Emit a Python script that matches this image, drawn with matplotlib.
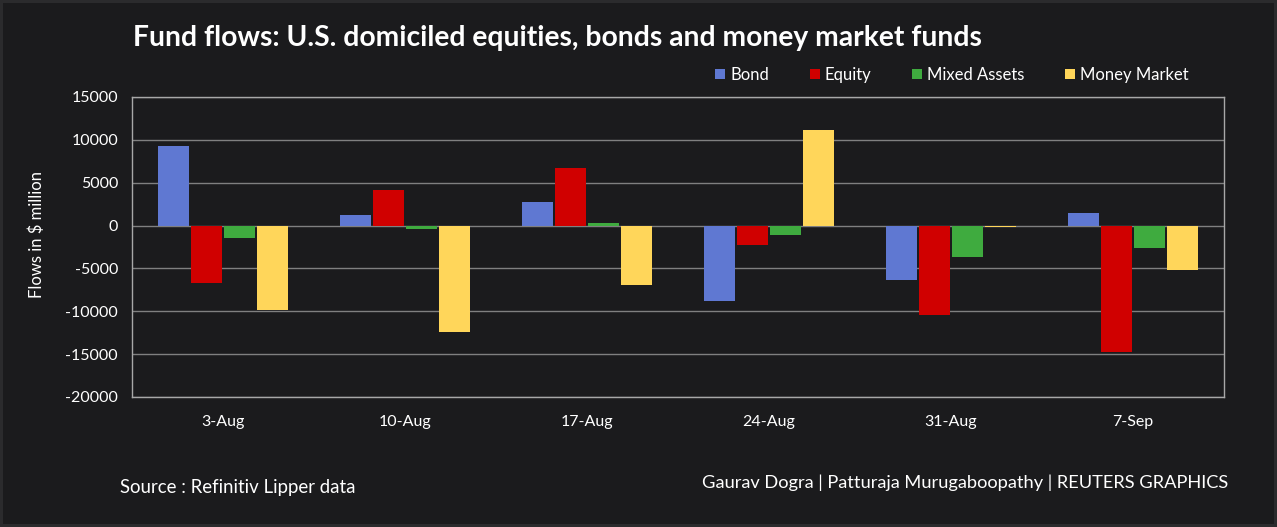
import numpy as np
import matplotlib
matplotlib.use('Agg')
import matplotlib.pyplot as plt
from matplotlib.patches import Rectangle

# data ($ million)
weeks = ['3-Aug', '10-Aug', '17-Aug', '24-Aug', '31-Aug', '7-Sep']
bond = [9300, 1200, 2800, -8800, -6400, 1500]
equity = [-6700, 4100, 6700, -2300, -10450, -14800]
mixed = [-1400, -350, 350, -1150, -3700, -2650]
money = [-9900, -12450, -6950, 11100, -200, -5200]

series_names = ['Bond', 'Equity', 'Mixed Assets', 'Money Market']
series_vals = [bond, equity, mixed, money]
colors = ['#5f78d2', '#d00000', '#3fab3f', '#ffd65a']

BG = '#1b1b1d'
FONT = 'Lato'
plt.rcParams['font.family'] = [FONT, 'DejaVu Sans']
plt.rcParams['axes.unicode_minus'] = False  # plain hyphen like the original

fig = plt.figure(figsize=(12.77, 5.27), dpi=100)
fig.patch.set_facecolor('#2b2b2d')
# inner dark panel, leaving a thin lighter frame at the edges
fig.patches.append(Rectangle((3 / 1277, 3 / 527), 1 - 6 / 1277, 1 - 6 / 527,
                             transform=fig.transFigure, facecolor=BG,
                             edgecolor='none', zorder=-5))

ax = fig.add_axes([132 / 1277, 1 - 397 / 527, (1224 - 132) / 1277, 300 / 527])
ax.set_zorder(2)
ax.set_facecolor(BG)

x = np.arange(len(weeks))
w = 0.17
step = 0.181
for i, (name, vals) in enumerate(zip(series_names, series_vals)):
    ax.bar(x + (i - 1.5) * step, vals, width=w, color=colors[i], label=name, zorder=3)

ax.set_xlim(-0.5, len(weeks) - 0.5)
ax.set_ylim(-20000, 15000)
ax.set_yticks(np.arange(-20000, 15001, 5000))
ax.set_xticks(x)
ax.set_xticklabels(weeks)
ax.yaxis.grid(True, color='#808080', linewidth=1, zorder=0)
ax.set_axisbelow(True)
for s in ax.spines.values():
    s.set_color('#a8a8a8')
    s.set_linewidth(1)
ax.tick_params(length=0, colors='white', labelsize=11.5)
ax.tick_params(axis='x', pad=13)
ax.tick_params(axis='y', pad=10)
ax.set_ylabel('Flows in $ million', color='white', fontsize=12)
ax.yaxis.set_label_coords(-0.0797, 0.54)

leg = ax.legend(ncol=4, loc='center', bbox_to_anchor=(952 / 1277, 1 - 75 / 527),
                bbox_transform=fig.transFigure, frameon=False, fontsize=12,
                handlelength=0.6, handleheight=0.6, handletextpad=0.3,
                columnspacing=2.45, labelcolor='white')

fig.text(133 / 1277, 1 - 38 / 527,
         'Fund flows: U.S. domiciled equities, bonds and money market funds',
         color='white', fontsize=20.3, fontweight='bold', va='center', ha='left')
fig.text(120 / 1277, 1 - 487 / 527, 'Source : Refinitiv Lipper data',
         color='white', fontsize=13.4, va='center', ha='left')
fig.text(1228 / 1277, 1 - 483 / 527,
         'Gaurav Dogra | Patturaja Murugaboopathy | REUTERS GRAPHICS',
         color='white', fontsize=13.15, va='center', ha='right')

fig.savefig('out.png', dpi=100, facecolor=fig.get_facecolor())
